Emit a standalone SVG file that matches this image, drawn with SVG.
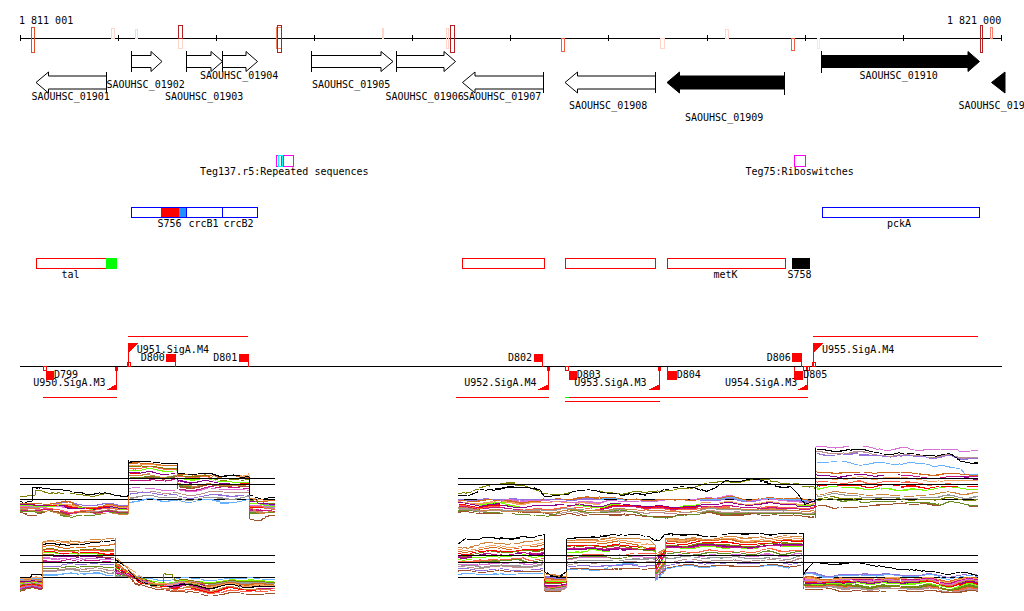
<svg xmlns="http://www.w3.org/2000/svg" width="1024" height="611" viewBox="0 0 1024 611">
<style>
.t{font-family:"DejaVu Sans Mono","Liberation Mono",monospace;font-size:10px;fill:#000}
.ga{fill:#fff;stroke:#000;stroke-width:1}
.gf{fill:#000;stroke:#000;stroke-width:1}
.k{stroke:#000;stroke-width:1;fill:none}
.rl{stroke:#f00;stroke-width:1;fill:none}
.rf{fill:#f00;stroke:none}
.ro{fill:none;stroke:#f00;stroke-width:1}
.m{fill:none;stroke-width:1}
.d polyline{fill:none;stroke-width:1}
</style>
<defs>
<filter id="jit1" color-interpolation-filters="sRGB" x="-2%" y="-20%" width="104%" height="140%">
<feTurbulence type="fractalNoise" baseFrequency="0.05 0.07" numOctaves="1" seed="3" result="n"/>
<feColorMatrix in="n" type="matrix" values="0 0 0 0 0.5  0 1.5 0 0 -0.25  0 0 0 0 0  0 0 0 0 1" result="m"/>
<feDisplacementMap in="SourceGraphic" in2="m" scale="6" xChannelSelector="R" yChannelSelector="G"/>
</filter>
<filter id="jit2" color-interpolation-filters="sRGB" x="-2%" y="-20%" width="104%" height="140%">
<feTurbulence type="fractalNoise" baseFrequency="0.05 0.08" numOctaves="1" seed="11" result="n"/>
<feColorMatrix in="n" type="matrix" values="0 0 0 0 0.5  0 1.5 0 0 -0.25  0 0 0 0 0  0 0 0 0 1" result="m"/>
<feDisplacementMap in="SourceGraphic" in2="m" scale="6" xChannelSelector="R" yChannelSelector="G"/>
</filter>
</defs>
<rect width="1024" height="611" fill="#fff"/>

<g id="ruler" shape-rendering="crispEdges">
<text class="t" x="19" y="23.5">1 811 001</text>
<text class="t" x="947" y="23.5">1 821 000</text>
<line class="k" x1="20" y1="38.5" x2="1002" y2="38.5"/>
<path class="k" d="M20.5 35V41M118.5 35V41M216.5 35V41M314.5 35V41M412.5 35V41M510.5 35V41M608.5 35V41M707.5 35V41M805.5 35V41M903.5 35V41M1001.5 35V41"/>
<rect class="m" stroke="#e05030" x="31.5" y="27.5" width="3" height="25"/>
<rect class="m" stroke="#ffd6c8" x="111.5" y="28.5" width="3" height="10"/>
<rect class="m" stroke="#ffd6c8" x="135.5" y="29.5" width="2" height="9"/>
<rect class="m" stroke="#ffd6c8" x="178.5" y="38.5" width="4" height="10"/>
<rect class="m" stroke="#b22222" x="178.5" y="25.5" width="4" height="13"/>
<rect class="m" stroke="#f08060" x="276.5" y="27.5" width="5" height="21"/>
<rect class="m" stroke="#b22222" x="277.5" y="25.5" width="4" height="27"/>
<rect class="m" stroke="#ffd6c8" x="382.5" y="28.5" width="1" height="10"/>
<rect class="m" stroke="#ffd6c8" x="446.5" y="28.5" width="2" height="20"/>
<rect class="m" stroke="#b22222" x="450.5" y="25.5" width="4" height="27"/>
<rect class="m" stroke="#f06040" x="561.5" y="38.5" width="3" height="13"/>
<rect class="m" stroke="#ffd6c8" x="660.5" y="38.5" width="4" height="10"/>
<rect class="m" stroke="#ffd6c8" x="725.5" y="29.5" width="3" height="9"/>
<rect class="m" stroke="#f06040" x="791.5" y="38.5" width="3" height="12"/>
<rect class="m" stroke="#ffe4dc" x="817.5" y="38.5" width="2" height="10"/>
<rect class="m" stroke="#b22222" x="980.5" y="25.5" width="2" height="27"/>
<rect class="m" stroke="#fa8072" x="990.5" y="27.5" width="2" height="11"/>
</g>

<g id="SAOUHSC_01901"><polygon class="ga" points="36,82.5 48.5,72 48.5,76 106.5,76 106.5,89 48.5,89 48.5,93"/><line class="k" x1="106.5" y1="72" x2="106.5" y2="93"/><text class="t" x="31.5" y="100">SAOUHSC_01901</text></g>
<g id="SAOUHSC_01902"><polygon class="ga" points="131.5,55.5 151,55.5 151,51.5 162,61.5 151,71.5 151,67.5 131.5,67.5"/><line class="k" x1="131.5" y1="51" x2="131.5" y2="72"/><text class="t" x="106.5" y="87.5">SAOUHSC_01902</text></g>
<g id="SAOUHSC_01903"><polygon class="ga" points="186.5,55.5 211,55.5 211,51.5 222.5,61.5 211,71.5 211,67.5 186.5,67.5"/><line class="k" x1="186.5" y1="51" x2="186.5" y2="72"/><text class="t" x="165" y="100">SAOUHSC_01903</text></g>
<g id="SAOUHSC_01904"><polygon class="ga" points="222.5,55.5 246,55.5 246,51.5 257.5,61.5 246,71.5 246,67.5 222.5,67.5"/><line class="k" x1="222.5" y1="51" x2="222.5" y2="72"/><text class="t" x="200" y="78.5">SAOUHSC_01904</text></g>
<g id="SAOUHSC_01905"><polygon class="ga" points="311.5,55.5 381,55.5 381,51.5 393,61.5 381,71.5 381,67.5 311.5,67.5"/><line class="k" x1="311.5" y1="51" x2="311.5" y2="72"/><text class="t" x="312" y="87.5">SAOUHSC_01905</text></g>
<g id="SAOUHSC_01906"><polygon class="ga" points="396.5,55.5 444,55.5 444,51.5 455.5,61.5 444,71.5 444,67.5 396.5,67.5"/><line class="k" x1="396.5" y1="51" x2="396.5" y2="72"/><text class="t" x="385.5" y="100">SAOUHSC_01906</text></g>
<g id="SAOUHSC_01907"><polygon class="ga" points="462.5,82.5 475,72 475,76 543.5,76 543.5,89 475,89 475,93"/><line class="k" x1="543.5" y1="72" x2="543.5" y2="93"/><text class="t" x="463" y="100">SAOUHSC_01907</text></g>
<g id="SAOUHSC_01908"><polygon class="ga" points="565,82.5 577.5,72 577.5,76 655.5,76 655.5,89 577.5,89 577.5,93"/><line class="k" x1="655.5" y1="72" x2="655.5" y2="93"/><text class="t" x="569" y="109">SAOUHSC_01908</text></g>
<g id="SAOUHSC_01909"><polygon class="gf" points="667,82.5 679.5,72 679.5,76 784.5,76 784.5,89 679.5,89 679.5,93"/><line class="k" x1="784.5" y1="72" x2="784.5" y2="95"/><text class="t" x="685" y="121">SAOUHSC_01909</text></g>
<g id="SAOUHSC_01910"><polygon class="gf" points="821.5,55.5 968,55.5 968,51.5 979.5,61.5 968,71.5 968,67.5 821.5,67.5"/><line class="k" x1="821.5" y1="51" x2="821.5" y2="73"/><text class="t" x="859.5" y="78.5">SAOUHSC_01910</text></g>
<g id="SAOUHSC_01911"><polygon class="gf" points="991.5,82.5 1005,72 1005,93"/><text class="t" x="958.5" y="109">SAOUHSC_01911</text></g>

<g id="Teg137" shape-rendering="crispEdges">
<rect class="m" stroke="#f0f" x="276.5" y="155.5" width="4.5" height="10.5"/>
<rect class="m" stroke="#0ff" x="278.5" y="155.5" width="3.5" height="10.5"/>
<rect class="m" stroke="#f0f" x="283.5" y="155.5" width="10" height="10.5"/>
<text class="t" x="200" y="175">Teg137.r5:Repeated sequences</text>
</g>
<g id="Teg75" shape-rendering="crispEdges">
<rect class="m" stroke="#f0f" x="794.5" y="155.5" width="11" height="10.5"/>
<text class="t" x="745.5" y="175">Teg75:Riboswitches</text>
</g>

<g id="crcB" shape-rendering="crispEdges">
<rect x="161" y="207.5" width="18" height="10" fill="#f00"/>
<rect x="179" y="207.5" width="7" height="10" fill="#1e90ff"/>
<rect class="m" stroke="#00f" x="131.5" y="207.5" width="126" height="10"/>
<path class="m" stroke="#00f" d="M186.5 207.5V217.5M222.5 207.5V217.5"/>
<text class="t" x="157.5" y="227">S756</text>
<text class="t" x="188.5" y="227">crcB1</text>
<text class="t" x="223.5" y="227">crcB2</text>
</g>
<g id="pckA" shape-rendering="crispEdges">
<rect class="m" stroke="#00f" x="822.5" y="207.5" width="157" height="10"/>
<text class="t" x="887" y="227">pckA</text>
</g>

<g id="tal" shape-rendering="crispEdges">
<rect class="ro" x="36.5" y="258.5" width="70" height="10"/>
<rect x="106" y="258" width="11" height="11" fill="#0f0"/>
<text class="t" x="61.5" y="278">tal</text>
</g>
<g id="gene_a" shape-rendering="crispEdges"><rect class="ro" x="462.5" y="258.5" width="81.5" height="10"/></g>
<g id="gene_b" shape-rendering="crispEdges"><rect class="ro" x="565.5" y="258.5" width="90" height="10"/></g>
<g id="metK" shape-rendering="crispEdges"><rect class="ro" x="667.5" y="258.5" width="117.5" height="10"/><text class="t" x="713.5" y="278">metK</text></g>
<g id="S758" shape-rendering="crispEdges"><rect x="792" y="258" width="18" height="11" fill="#000"/><text class="t" x="787.5" y="278">S758</text></g>

<g id="connectors" shape-rendering="crispEdges">
<line class="k" x1="20" y1="366.5" x2="1002" y2="366.5"/>
</g>

<g id="U950" shape-rendering="crispEdges">
<line class="rl" x1="43" y1="397.5" x2="117" y2="397.5"/>
<line class="rl" x1="116.5" y1="366.5" x2="116.5" y2="390"/>
<rect class="rf" x="115" y="367" width="3" height="4"/>
<polygon class="rf" points="106,390 117,384 117,390"/>
<text class="t" x="33.3" y="386">U950.SigA.M3</text>
</g>
<g id="D799" shape-rendering="crispEdges">
<rect class="ro" x="43.5" y="366.5" width="2.5" height="3.5"/>
<rect class="rf" x="46" y="371" width="8" height="8.5"/>
<text class="t" x="54" y="377.5">D799</text>
</g>
<g id="U951" shape-rendering="crispEdges">
<line class="rl" x1="128" y1="336.5" x2="248" y2="336.5"/>
<line class="rl" x1="128.5" y1="343" x2="128.5" y2="366"/>
<rect class="ro" x="127" y="362.5" width="3" height="4"/>
<polygon class="rf" points="128.5,343 138.5,343 128.5,353"/>
<text class="t" x="136.7" y="353">U951.SigA.M4</text>
</g>
<g id="D800" shape-rendering="crispEdges">
<rect class="rf" x="165.5" y="353.5" width="10" height="8"/>
<line class="rl" x1="175.5" y1="361" x2="175.5" y2="366.5"/>
<text class="t" x="140.7" y="360.5">D800</text>
</g>
<g id="D801" shape-rendering="crispEdges">
<rect class="rf" x="238.5" y="353.5" width="10" height="8"/>
<line class="rl" x1="248.5" y1="353.5" x2="248.5" y2="366.5"/>
<text class="t" x="213.3" y="360.5">D801</text>
</g>
<g id="D802" shape-rendering="crispEdges">
<rect class="rf" x="533.5" y="353.5" width="9.5" height="8"/>
<line class="rl" x1="542.5" y1="361" x2="542.5" y2="366.5"/>
<text class="t" x="508" y="360.5">D802</text>
</g>
<g id="U952" shape-rendering="crispEdges">
<line class="rl" x1="456" y1="397.5" x2="548.5" y2="397.5"/>
<line class="rl" x1="548" y1="366.5" x2="548" y2="390"/>
<rect class="rf" x="546.5" y="367" width="3" height="4"/>
<polygon class="rf" points="537.5,390 548.5,384 548.5,390"/>
<text class="t" x="464.3" y="386">U952.SigA.M4</text>
</g>
<g id="D803" shape-rendering="crispEdges">
<rect class="ro" x="565.5" y="366.5" width="3" height="4"/>
<rect class="rf" x="568.7" y="371.3" width="8" height="8.7"/>
<text class="t" x="576.7" y="378">D803</text>
</g>
<g id="U953" shape-rendering="crispEdges">
<line class="rl" x1="565.3" y1="401" x2="659.5" y2="401"/>
<line class="rl" x1="659" y1="366.5" x2="659" y2="390"/>
<rect class="rf" x="657.5" y="367" width="3" height="4"/>
<polygon class="rf" points="648.3,390 659.5,384 659.5,390"/>
<text class="t" x="574.3" y="386">U953.SigA.M3</text>
</g>
<g id="D804" shape-rendering="crispEdges">
<line class="rl" x1="667.5" y1="366.5" x2="667.5" y2="380"/>
<rect class="rf" x="667.7" y="371.3" width="9" height="8.7"/>
<text class="t" x="676.7" y="378">D804</text>
</g>
<g id="U954" shape-rendering="crispEdges">
<line class="rl" x1="565.3" y1="397.5" x2="808" y2="397.5"/>
<line x1="565.3" y1="397.5" x2="569" y2="397.5" stroke="#0f0"/>
<line class="rl" x1="807.5" y1="366.5" x2="807.5" y2="390"/>
<polygon class="rf" points="797.3,390 808,384 808,390"/>
<text class="t" x="725" y="386">U954.SigA.M3</text>
</g>
<g id="D806" shape-rendering="crispEdges">
<rect class="rf" x="792.3" y="353.3" width="9.4" height="8.4"/>
<line class="rl" x1="801.5" y1="361.5" x2="801.5" y2="366.5"/>
<text class="t" x="766.7" y="360.5">D806</text>
</g>
<g id="D805" shape-rendering="crispEdges">
<line class="rl" x1="794.5" y1="366.5" x2="794.5" y2="371.5"/>
<rect class="rf" x="794.3" y="371.3" width="9" height="8.7"/>
<rect class="ro" x="803.5" y="366.5" width="3" height="4"/>
<rect class="ro" x="806.5" y="366.5" width="3" height="4"/>
<text class="t" x="803.3" y="378">D805</text>
</g>
<g id="U955" shape-rendering="crispEdges">
<line class="rl" x1="813" y1="336.5" x2="978" y2="336.5"/>
<line class="rl" x1="813.5" y1="343" x2="813.5" y2="366"/>
<rect class="ro" x="812" y="362.5" width="3" height="4"/>
<polygon class="rf" points="813.5,343 823.5,343 813.5,353"/>
<text class="t" x="822" y="353">U955.SigA.M4</text>
</g>

<g id="profile_top_left" class="d" shape-rendering="crispEdges">
<line class="k" x1="20" y1="499.5" x2="275" y2="499.5"/>
<g filter="url(#jit1)">
<polyline stroke="#999999" points="20,507 128,508 129,497 177,498 178,498 249,499 250,508 275,508"/>
<polyline stroke="#66b2ff" points="20,505 70,505 128,505 129,501 160,500 177,500 178,500 220,501 249,502 250,506 275,505"/>
<polyline stroke="#9370db" points="20,503 60,504 128,503 129,494 177,495 178,496 249,497 250,505 275,506"/>
<polyline stroke="#bc8f8f" points="20,508 50,510 100,511 128,510 129,492 150,493 177,492 178,493 220,494 249,493 250,512 275,514"/>
<polyline stroke="#da70d6" points="20,506 55,508 90,507 128,509 129,488 160,490 177,489 178,489 210,490 249,491 250,507 275,508"/>
<polyline stroke="#a0522d" points="20,512 30,515 45,513 70,512 128,511 129,478 177,479 178,486 249,487 250,517 258,519 265,517 275,516"/>
<polyline stroke="#6b8e23" points="20,511 50,513 80,516 110,514 128,513 129,477 177,478 178,485 249,486 250,513 275,514"/>
<polyline stroke="#c71585" points="20,510 60,511 95,513 128,512 129,480 177,481 178,488 249,489 250,511 275,511"/>
<polyline stroke="#cd853f" points="20,509 35,511 60,514 85,512 110,515 128,514 129,475 150,476 177,477 178,484 205,486 249,485 250,510 262,514 275,512"/>
<polyline stroke="#ff0000" points="20,506 45,505 75,507 128,506 129,473 177,474 178,482 249,483 250,509 275,509"/>
<polyline stroke="#8b008b" points="20,504 50,506 80,508 110,507 128,506 129,472 150,474 177,473 178,482 220,483 249,481 250,503 265,505 275,504"/>
<polyline stroke="#7cfc00" points="20,505 45,507 70,505 100,509 128,507 129,470 160,471 177,470 178,481 215,480 249,482 250,505 275,507"/>
<polyline stroke="#ff6347" points="20,507 40,509 65,511 95,509 128,508 129,468 160,469 177,468 178,478 225,479 249,478 250,508 275,510"/>
<polyline stroke="#808000" points="20,497 35,495 36,490 60,494 90,495 110,496 128,497 129,466 155,468 177,467 178,477 210,478 249,479 250,502 275,504"/>
<polyline stroke="#f4a460" points="20,504 45,503 70,506 128,505 129,465 150,466 177,464 178,475 249,474 250,499 275,501"/>
<polyline stroke="#d2691e" points="20,503 40,504 60,502 85,506 105,505 128,504 129,463 150,465 177,464 178,475 205,477 230,474 249,477 250,500 262,502 275,500"/>
<polyline stroke="#000000" points="20,501 32,501 33,487 50,489 70,492 100,494 117,497 128,496 129,462 145,463 160,462 177,463 178,474 200,475 230,474 249,476 250,496 262,499 275,497"/>
</g>
<line class="k" x1="20" y1="478.5" x2="275" y2="478.5"/>
<line class="k" x1="20" y1="484.5" x2="275" y2="484.5"/>
</g>

<g id="profile_bottom_left" class="d" shape-rendering="crispEdges">
<line class="k" x1="20" y1="577.5" x2="275" y2="577.5"/>
<g filter="url(#jit2)">
<polyline stroke="#999999" points="20,586 42,585 43,572 115,571 116,576 140,582 275,584"/>
<polyline stroke="#66b2ff" points="20,579 42,577 43,575 80,574 115,573 116,575 140,578 200,579 275,580"/>
<polyline stroke="#bc8f8f" points="20,581 42,579 43,570 80,570 115,569 116,574 140,580 200,583 275,582"/>
<polyline stroke="#6b8e23" points="20,591 42,589 43,569 80,568 115,567 116,574 145,584 200,586 275,587"/>
<polyline stroke="#9370db" points="20,589 42,587 43,567 80,565 115,564 116,572 140,583 200,585 275,584"/>
<polyline stroke="#c71585" points="20,590 42,588 43,562 80,561 115,560 116,572 145,585 210,588 275,589"/>
<polyline stroke="#da70d6" points="20,585 42,583 43,560 80,559 115,558 116,571 140,582 200,587 275,586"/>
<polyline stroke="#8b008b" points="20,582 42,580 43,558 80,557 115,556 116,570 140,581 180,584 230,586 275,585"/>
<polyline stroke="#a0522d" points="20,592 30,590 42,589 43,557 80,556 115,555 116,569 135,584 155,590 200,593 240,594 275,595"/>
<polyline stroke="#7cfc00" points="20,584 42,582 43,555 80,554 115,553 116,568 140,580 165,581 220,582 275,581"/>
<polyline stroke="#ff0000" points="20,587 42,585 43,554 80,553 115,552 116,567 140,584 190,589 275,590"/>
<polyline stroke="#808000" points="20,586 42,584 43,551 80,550 115,549 116,566 135,578 155,582 163,583 164,573 172,572 175,580 200,582 275,583"/>
<polyline stroke="#ff6347" points="20,588 42,586 43,552 80,551 115,550 116,565 140,583 170,590 220,591 275,592"/>
<polyline stroke="#d2691e" points="20,583 42,581 43,548 70,547 100,546 115,545 116,563 130,575 150,584 180,583 230,585 275,584"/>
<polyline stroke="#f4a460" points="20,578 42,576 43,544 60,543 90,542 115,541 116,558 130,570 150,582 200,585 275,586"/>
<polyline stroke="#000000" points="20,577 30,576 33,574 42,575 43,546 60,545 80,543 100,542 115,541 116,560 125,566 135,580 150,586 170,585 200,587 240,586 275,587"/>
<polyline stroke="#cd853f" points="20,580 42,578 43,543 70,541 90,540 115,538 116,556 130,572 145,585 160,588 200,589 240,588 275,590"/>
</g>
<line class="k" x1="20" y1="555.5" x2="275" y2="555.5"/>
<line class="k" x1="20" y1="562.5" x2="275" y2="562.5"/>
</g>

<g id="profile_top_right" class="d" shape-rendering="crispEdges">
<line class="k" x1="458" y1="499.5" x2="978" y2="499.5"/>
<g filter="url(#jit1)">
<polyline stroke="#999999" points="458,509 600,510 700,511 814,510 815,510 816,495 900,497 978,498"/>
<polyline stroke="#66b2ff" points="458,500 520,499 600,499 700,500 814,499 815,499 816,462 900,464 960,468 965,474 978,474"/>
<polyline stroke="#9370db" points="458,499 520,499 600,500 700,500 814,501 815,501 816,454 900,456 978,459"/>
<polyline stroke="#bc8f8f" points="458,510 540,511 560,514 600,512 700,513 814,512 815,512 816,452 900,455 978,458"/>
<polyline stroke="#da70d6" points="458,501 520,500 580,502 640,501 690,499 720,497 760,500 814,502 815,502 816,448 880,447 940,449 978,451"/>
<polyline stroke="#a0522d" points="458,512 480,514 545,512 560,516 600,514 650,516 700,514 760,515 814,516 815,516 816,508 880,505 960,503 978,505"/>
<polyline stroke="#6b8e23" points="458,511 500,513 545,516 560,512 620,511 660,517 700,514 814,513 815,513 816,500 900,502 978,504"/>
<polyline stroke="#cd853f" points="458,508 500,510 550,512 600,509 650,511 700,510 760,509 814,511 815,511 816,493 900,494 978,495"/>
<polyline stroke="#7cfc00" points="458,504 490,503 520,505 560,506 600,505 640,507 700,504 760,503 814,505 815,505 816,487 880,488 960,489 978,492"/>
<polyline stroke="#ff0000" points="458,505 520,506 600,506 700,507 814,507 815,507 816,485 900,486 978,488"/>
<polyline stroke="#ff6347" points="458,506 500,507 545,509 590,507 640,508 700,509 760,507 814,508 815,508 816,482 900,483 978,485"/>
<polyline stroke="#f4a460" points="458,502 520,502 600,503 700,503 814,503 815,503 816,478 900,479 978,481"/>
<polyline stroke="#c71585" points="458,507 520,508 600,508 700,507 814,509 815,509 816,475 900,476 978,477"/>
<polyline stroke="#8b008b" points="458,503 500,505 550,506 600,504 660,506 720,505 780,504 814,506 815,506 816,475 900,476 960,476 978,480"/>
<polyline stroke="#d2691e" points="458,500 500,501 540,502 545,497 565,499 600,498 650,500 700,499 760,498 814,499 815,499 816,472 900,473 960,474 978,476"/>
<polyline stroke="#808000" points="458,493 475,489 490,485 505,484 525,486 545,493 600,492 640,494 665,491 690,489 712,481 760,481 790,484 814,486 815,486 816,498 900,499 978,500"/>
<polyline stroke="#000000" points="458,495 470,494 480,490 495,488 510,487 525,487 540,490 545,496 560,494 580,492 600,493 620,494 640,496 658,493 665,489 680,487 695,488 705,492 715,488 725,481 745,480 760,482 775,486 790,486 798,494 802,500 806,503 814,500 815,500 816,450 850,451 880,452 920,454 950,456 960,460 970,462 978,462"/>
</g>
<line class="k" x1="458" y1="478.5" x2="978" y2="478.5"/>
<line class="k" x1="458" y1="484.5" x2="978" y2="484.5"/>
</g>

<g id="profile_bottom_right" class="d" shape-rendering="crispEdges">
<line class="k" x1="458" y1="577.5" x2="978" y2="577.5"/>
<g filter="url(#jit2)">
<polyline stroke="#999999" points="458,566 544,564 545,589 566,590 567,560 655,561 656,576 665,564 666,558 803,557 804,587 978,589"/>
<polyline stroke="#66b2ff" points="458,575 500,574 544,573 545,583 566,582 567,570 600,569 620,564 655,566 656,582 665,570 666,568 720,567 790,566 803,565 804,576 860,575 900,576 940,577 978,577"/>
<polyline stroke="#9370db" points="458,570 500,569 544,568 545,577 566,578 567,565 655,566 656,580 665,568 666,563 760,563 803,562 804,574 900,575 978,576"/>
<polyline stroke="#a0522d" points="458,572 500,571 544,570 545,591 556,592 566,590 567,568 655,569 656,577 665,569 666,566 760,566 803,565 804,590 880,591 978,592"/>
<polyline stroke="#bc8f8f" points="458,568 500,566 544,565 545,590 566,591 567,562 655,563 656,578 665,566 666,560 760,560 803,559 804,588 900,589 978,591"/>
<polyline stroke="#da70d6" points="458,565 500,563 544,562 545,588 566,589 567,558 620,557 655,560 656,575 665,563 666,556 760,555 803,554 804,579 900,581 978,583"/>
<polyline stroke="#6b8e23" points="458,563 500,561 544,560 545,587 566,588 567,556 655,558 656,574 665,561 666,553 760,553 803,552 804,584 900,586 978,588"/>
<polyline stroke="#ff6347" points="458,562 500,560 544,558 545,586 566,587 567,555 620,554 655,556 656,572 665,560 666,552 760,551 803,550 804,586 900,587 978,590"/>
<polyline stroke="#7cfc00" points="458,560 500,557 544,555 545,580 566,581 567,552 610,550 640,546 655,553 656,570 665,556 666,548 760,547 803,546 804,583 900,584 978,587"/>
<polyline stroke="#8b008b" points="458,558 500,555 544,553 545,584 566,585 567,550 620,549 655,550 656,562 665,552 666,545 760,546 803,544 804,582 900,583 978,585"/>
<polyline stroke="#c71585" points="458,557 500,555 544,552 545,585 566,586 567,549 620,548 655,551 656,569 665,555 666,546 760,547 803,545 804,578 900,580 978,582"/>
<polyline stroke="#808000" points="458,556 500,552 544,550 545,582 566,583 567,547 620,546 655,552 656,566 665,553 666,544 760,544 803,543 804,585 900,587 978,589"/>
<polyline stroke="#ff0000" points="458,554 500,551 544,549 545,581 566,582 567,546 620,545 655,549 656,567 665,551 666,542 760,543 803,541 804,581 900,582 978,586"/>
<polyline stroke="#d2691e" points="458,552 500,548 544,546 545,578 566,579 567,543 620,542 655,548 656,560 665,550 666,540 740,541 803,540 804,577 880,579 978,580"/>
<polyline stroke="#f4a460" points="458,550 500,546 544,544 545,579 566,580 567,541 620,540 655,545 656,558 665,549 666,539 760,539 803,538 804,578 900,579 978,581"/>
<polyline stroke="#cd853f" points="458,548 480,544 500,543 520,541 544,540 545,575 566,576 567,540 600,539 630,538 650,540 655,545 656,556 665,548 666,538 720,538 760,537 803,536 804,580 850,581 900,582 978,584"/>
<polyline stroke="#000000" points="458,545 465,540 480,539 500,538 520,537 535,536 544,535 545,572 550,576 560,576 566,572 567,538 600,537 620,535 640,534 650,537 655,541 660,540 665,534 680,536 720,535 760,534 790,533 803,532 804,575 810,568 815,563 840,563 870,564 885,567 905,567 925,572 945,573 957,571 965,573 978,577"/>
</g>
<line class="k" x1="458" y1="555.5" x2="978" y2="555.5"/>
<line class="k" x1="458" y1="562.5" x2="978" y2="562.5"/>
</g>
</svg>
